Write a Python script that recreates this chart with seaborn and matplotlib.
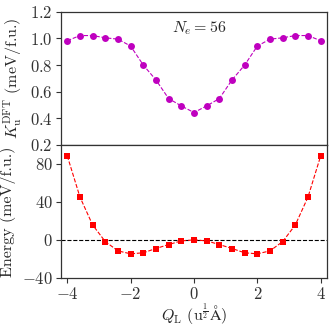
import numpy as np
import pandas as pd
import matplotlib
matplotlib.use("Agg")
import matplotlib.pyplot as plt
import seaborn as sns

q_l = [-4.0, -3.6, -3.2, -2.8, -2.4, -2.0, -1.6, -1.2, -0.8, -0.4, 0.0,
       0.4, 0.8, 1.2, 1.6, 2.0, 2.4, 2.8, 3.2, 3.6, 4.0]
k_u = [0.983, 1.022, 1.022, 1.005, 0.995, 0.943, 0.800, 0.688, 0.548, 0.493, 0.443,
       0.493, 0.548, 0.688, 0.800, 0.943, 0.995, 1.005, 1.022, 1.022, 0.983]
energy = [88.4, 45.1, 15.7, -1.8, -11.6, -14.7, -13.6, -9.1, -4.9, -1.1, 0.0,
          -1.1, -4.9, -9.1, -13.6, -14.7, -11.6, -1.8, 15.7, 45.1, 88.4]

df = pd.DataFrame({'Q': q_l, 'K': k_u, 'E': energy})

sns.set_style('ticks')
plt.rcParams['font.family'] = 'serif'
plt.rcParams['font.serif'] = ['cmr10']
plt.rcParams['mathtext.fontset'] = 'cm'
plt.rcParams['axes.formatter.use_mathtext'] = True
plt.rcParams['font.size'] = 11.5

fig = plt.figure(figsize=(3.33, 3.30), dpi=100)
ax1 = fig.add_axes([0.183, 0.561, 0.799, 0.403])
ax2 = fig.add_axes([0.183, 0.158, 0.799, 0.403])

sns.lineplot(data=df, x='Q', y='K', ax=ax1, color='m', marker='o', markersize=5,
             markeredgewidth=0, linestyle='--', linewidth=0.8)
sns.lineplot(data=df, x='Q', y='E', ax=ax2, color='r', marker='s', markersize=5,
             markeredgewidth=0, linestyle='--', linewidth=0.8)
ax2.axhline(0, color='k', linestyle='--', linewidth=0.8, zorder=0)

ax1.set_xlim(-4.2, 4.2)
ax2.set_xlim(-4.2, 4.2)
ax1.set_ylim(0.2, 1.2)
ax2.set_ylim(-40, 100)
ax1.set_yticks([0.2, 0.4, 0.6, 0.8, 1.0, 1.2])
ax2.set_yticks([-40, 0, 40, 80])
ax2.set_xticks([-4, -2, 0, 2, 4])
ax1.set_xticks([])
ax1.set_xlabel('')
ax1.set_ylabel(r'$K_\mathrm{u}^\mathrm{DFT}$ (meV/f.u.)')
ax2.set_ylabel('Energy (meV/f.u.)')
ax2.set_xlabel(r'$Q_\mathrm{L}$ (u$^{\frac{1}{2}}$$\mathrm{\AA}$)', labelpad=0)
ax1.text(0.52, 0.88, r'$N_e = 56$', transform=ax1.transAxes, ha='center', va='center')

for ax in (ax1, ax2):
    for s in ax.spines.values():
        s.set_visible(True)
        s.set_color('#333333')
        s.set_linewidth(0.9)
    ax.tick_params(direction='out', length=3.5, width=0.8, colors='#333333',
                   labelcolor='#333333', labelsize=12, pad=2.5)

fig.savefig('out.png', dpi=100)
